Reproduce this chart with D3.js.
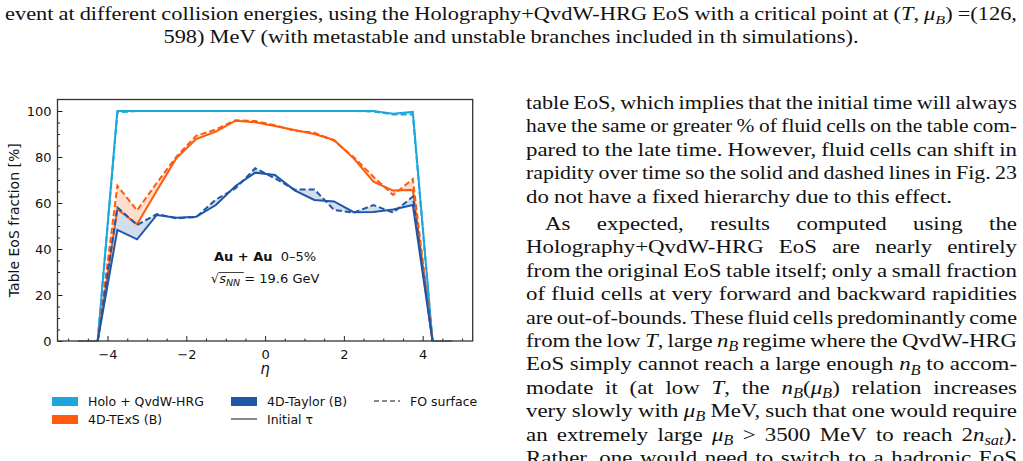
<!DOCTYPE html>
<html>
<head>
<meta charset="utf-8">
<script src="https://cdn.jsdelivr.net/npm/d3@7"></script>
<style>
  body { margin: 0; background: #fff; }
  svg { display: block; }
</style>
</head>
<body>
<svg id="page" width="1023" height="461"></svg>
<script>
//rapidity grid and table fractions (%)
var eta = [-4.25, -3.75, -3.25, -2.75, -2.25, -1.75, -1.25, -0.75, -0.25,
           0.25, 0.75, 1.25, 1.75, 2.25, 2.75, 3.25, 3.75, 4.25];
var holoInit   = [0, 100, 100, 100, 100, 100, 100, 100, 100, 100, 100, 100, 100, 100, 100, 98.8, 99.6, 0];
var holoFO     = [0, 99.4, 100, 100, 100, 100, 100, 100, 100, 100, 100, 100, 100, 100, 99.8, 98.5, 98.5, 0];
var texsInit   = [0, 57.3, 50.8, 65.3, 79.6, 87.8, 91, 95.8, 95.1, 93.5, 91.7, 90, 87.4, 79.4, 69.3, 65.4, 65.7, 0];
var texsFO     = [0, 67.5, 56.8, 68.7, 80.2, 89.2, 92, 96, 95.6, 93.8, 91.4, 90.6, 87.1, 79.9, 71.4, 63.5, 70.4, 0];
var taylorInit = [0, 48.3, 44.2, 54.8, 53.6, 54, 59.1, 67.4, 73.2, 72.2, 65.5, 61.3, 60.7, 56, 56.1, 57.2, 59.1, 0];
var taylorFO   = [0, 58.1, 50.4, 55.2, 53.3, 53.9, 61.5, 66.4, 75.1, 70.7, 65.8, 65.9, 57, 55.8, 59.1, 55.8, 62.8, 0];
//empty cells beyond the edges
var edgeEtaL = [-4.75, -4.25], edgeEtaR = [4.25, 4.75], edgeVal = [0, 0];

var xTicks = [-4, -2, 0, 2, 4];
var yTicks = [0, 20, 40, 60, 80, 100];

//caption and body text lines (*..* italic, _{..} subscript)
var captionLines = [
  'event at different collision energies, using the Holography+QvdW-HRG EoS with a critical point at (*T*, *μ*_{B}) =(126,',
  '598) MeV (with metastable and unstable branches included in th simulations).'
];
var bodyLines = [
  'table EoS, which implies that the initial time will always',
  'have the same or greater % of fluid cells on the table com-',
  'pared to the late time. However, fluid cells can shift in',
  'rapidity over time so the solid and dashed lines in Fig. 23',
  'do not have a fixed hierarchy due to this effect.',
  'As expected, results computed using the',
  'Holography+QvdW-HRG EoS are nearly entirely',
  'from the original EoS table itself; only a small fraction',
  'of fluid cells at very forward and backward rapidities',
  'are out-of-bounds. These fluid cells predominantly come',
  'from the low *T*, large *n*_{B} regime where the QvdW-HRG',
  'EoS simply cannot reach a large enough *n*_{B} to accom-',
  'modate it (at low *T*, the *n*_{B}(*μ*_{B}) relation increases',
  'very slowly with *μ*_{B} MeV, such that one would require',
  'an extremely large *μ*_{B} > 3500 MeV to reach 2*n*_{sat}).',
  'Rather, one would need to switch to a hadronic EoS'
];

var svg = d3.select('#page');
var serif = '"Liberation Serif", "Times New Roman", serif';
var sans = '"DejaVu Sans", sans-serif';

//--- rich text helpers ---
function richText(sel, str, size) {
  var italic = false, shift = 0, i = 0, buf = '';
  function flush(sub) {
    if (!buf) return;
    var t = sel.append('tspan').text(buf)
      .attr('font-style', (italic || sub) ? 'italic' : 'normal');
    if (sub) t.attr('font-size', size * 0.72);
    var dy = (sub ? size * 0.22 : 0) - shift;
    if (dy) t.attr('dy', dy);
    shift = sub ? size * 0.22 : 0;
    buf = '';
  }
  while (i < str.length) {
    var c = str[i];
    if (c === '*') { flush(false); italic = !italic; i++; }
    else if (c === '_' && str[i + 1] === '{') {
      flush(false);
      var j = str.indexOf('}', i);
      buf = str.slice(i + 2, j);
      flush(true);
      i = j + 1;
    } else { buf += c; i++; }
  }
  flush(false);
}

//build words of a line, measured at natural width
function buildLine(g, str, y, size) {
  var nodes = str.split(' ').map(function(w) {
    var t = g.append('text').attr('y', y).attr('font-size', size)
      .attr('font-family', serif).attr('fill', '#111');
    richText(t, w, size);
    return t;
  });
  var widths = nodes.map(function(t) { return t.node().getComputedTextLength(); });
  return {nodes: nodes, widths: widths, sum: d3.sum(widths), n: nodes.length, size: size};
}

//stretch that gives a normal word space on a justified line
function neededStretch(L, x0, x1) {
  return (x1 - x0 - 0.27 * L.size * (L.n - 1)) / L.sum;
}

function placeLine(L, x0, x1, s, mode) {
  var space = 0.27 * L.size;
  var gap = space, start = x0, total = L.sum * s;
  if (mode === 'justify' && L.n > 1) gap = (x1 - x0 - total) / (L.n - 1);
  if (mode === 'center') start = (x0 + x1) / 2 - (total + space * (L.n - 1)) / 2;
  var x = start;
  L.nodes.forEach(function(t, k) {
    var w = L.widths[k] * s;
    t.attr('x', x).attr('textLength', w).attr('lengthAdjust', 'spacingAndGlyphs');
    x += w + gap;
  });
}

//--- caption ---
var cap = svg.append('g').attr('class', 'caption');
var c0 = buildLine(cap, captionLines[0], 20, 18.5);
var c1 = buildLine(cap, captionLines[1], 43, 18.5);
var sCap = neededStretch(c0, 5, 1017);
placeLine(c0, 5, 1017, sCap, 'justify');
placeLine(c1, 5, 1017, sCap, 'center');

//--- body column ---
var body = svg.append('g').attr('class', 'body');
var lineH = 23.4;
var bodyL = bodyLines.map(function(s, k) {
  var y = 109 + k * lineH + (k >= 5 ? 4 : 0);
  var L = buildLine(body, s, y, 19);
  L.x0 = (k === 5) ? 545 : 526;
  L.mode = (k === 4) ? 'left' : 'justify';
  return L;
});
var sBody = d3.median(bodyL.filter(function(L, k) { return [4, 5, 6].indexOf(k) < 0; }),
  function(L) { return neededStretch(L, L.x0, 1017); });
bodyL.forEach(function(L) {
  var s = Math.min(sBody, neededStretch(L, L.x0, 1017) + 0.02);
  placeLine(L, L.x0, 1017, L.mode === 'left' ? sBody : s, L.mode);
});

//--- chart ---
var margin = {left: 57.5, top: 99.5, right: 472.7, bottom: 341};
var x = d3.scaleLinear().domain([-5.27, 5.27]).range([margin.left, margin.right]);
var y = d3.scaleLinear().domain([0, 105]).range([margin.bottom, margin.top]);

var colors = {holo: '#1ca6dc', texs: '#ff5b0c', taylor: '#1f56a8'};
var chart = svg.append('g').attr('class', 'chart');

var line = d3.line().x(function(d) { return x(d[0]); }).y(function(d) { return y(d[1]); });
var area = d3.area().x(function(d) { return x(d[0]); })
  .y0(function(d) { return y(d[1]); }).y1(function(d) { return y(d[2]); });

function series(a, b) { return eta.map(function(e, i) { return [e, a[i], b ? b[i] : 0]; }); }

var sets = [
  {init: holoInit, fo: holoFO, c: colors.holo},
  {init: texsInit, fo: texsFO, c: colors.texs},
  {init: taylorInit, fo: taylorFO, c: colors.taylor}
];

//bands between initial time and FO surface
sets.forEach(function(s) {
  chart.append('path').datum(series(s.init, s.fo))
    .attr('d', area).attr('fill', s.c).attr('fill-opacity', 0.2).attr('stroke', 'none');
});

//edge zeros
[edgeEtaL, edgeEtaR].forEach(function(ex) {
  chart.append('path').datum(ex.map(function(e, i) { return [e, edgeVal[i]]; }))
    .attr('d', line).attr('fill', 'none').attr('stroke', '#8a9aa8').attr('stroke-width', 2);
});

sets.forEach(function(s) {
  chart.append('path').datum(series(s.init))
    .attr('d', line).attr('fill', 'none').attr('stroke', s.c).attr('stroke-width', 2);
  chart.append('path').datum(series(s.fo))
    .attr('d', line).attr('fill', 'none').attr('stroke', s.c).attr('stroke-width', 2)
    .attr('stroke-dasharray', '6,3');
});

//axes with inward ticks
function styleAxis(g) {
  g.select('.domain').remove();
  g.selectAll('.tick line').attr('stroke', '#222').attr('stroke-width', 1);
  g.selectAll('.tick text').attr('fill', '#111').attr('font-family', sans).attr('font-size', 13);
}
var xMinor = d3.range(-5, 5.01, 0.5).filter(function(v) { return xTicks.indexOf(v) < 0; });
var yMinor = d3.range(0, 105, 5).filter(function(v) { return yTicks.indexOf(v) < 0; });

chart.append('g').attr('transform', 'translate(0,' + margin.bottom + ')')
  .call(d3.axisBottom(x).tickValues(xMinor).tickSize(-2.5).tickFormat(''))
  .call(styleAxis);
chart.append('g').attr('transform', 'translate(0,' + margin.bottom + ')')
  .call(d3.axisBottom(x).tickValues(xTicks).tickSize(-5).tickPadding(9).tickFormat(d3.format('d')))
  .call(styleAxis);
chart.append('g').attr('transform', 'translate(' + margin.left + ',0)')
  .call(d3.axisLeft(y).tickValues(yMinor).tickSize(-2.5).tickFormat(''))
  .call(styleAxis);
chart.append('g').attr('transform', 'translate(' + margin.left + ',0)')
  .call(d3.axisLeft(y).tickValues(yTicks).tickSize(-5).tickPadding(6).tickFormat(d3.format('d')))
  .call(styleAxis);

//frame
chart.append('rect')
  .attr('x', margin.left).attr('y', margin.top)
  .attr('width', margin.right - margin.left).attr('height', margin.bottom - margin.top)
  .attr('fill', 'none').attr('stroke', '#333').attr('stroke-width', 1.3);

//axis titles
chart.append('text')
  .attr('transform', 'translate(19,' + ((margin.top + margin.bottom) / 2) + ') rotate(-90)')
  .attr('text-anchor', 'middle').attr('font-family', sans).attr('font-size', 14).attr('fill', '#111')
  .text('Table EoS fraction [%]');
chart.append('text')
  .attr('x', x(0)).attr('y', 374).attr('text-anchor', 'middle')
  .attr('font-family', sans).attr('font-style', 'italic').attr('font-size', 15).attr('fill', '#111')
  .text('η');

//annotation
var ann = chart.append('text').attr('x', x(0)).attr('y', 261).attr('text-anchor', 'middle')
  .attr('font-family', sans).attr('font-size', 13).attr('fill', '#111');
ann.append('tspan').attr('font-weight', 'bold').text('Au + Au');
ann.append('tspan').text('\u00a0\u00a00–5%');

var ann2 = chart.append('text').attr('x', x(0)).attr('y', 283).attr('text-anchor', 'middle')
  .attr('font-family', sans).attr('font-size', 13).attr('fill', '#111');
ann2.append('tspan').text('√');
ann2.append('tspan').attr('font-style', 'italic').text('s');
ann2.append('tspan').attr('font-style', 'italic').attr('font-size', 9.5).attr('dy', 3).text('NN');
ann2.append('tspan').attr('dy', -3).text(' = 19.6 GeV');
//overline of the root
var bb = ann2.node().getBBox();
chart.append('line')
  .attr('x1', bb.x + 8).attr('x2', bb.x + 33).attr('y1', bb.y + 1.5).attr('y2', bb.y + 1.5)
  .attr('stroke', '#111').attr('stroke-width', 0.8);

//legend
var legendItems = [
  {label: 'Holo + QvdW-HRG', kind: 'patch', c: colors.holo, col: 0, row: 0},
  {label: '4D-TExS (B)', kind: 'patch', c: colors.texs, col: 0, row: 1},
  {label: '4D-Taylor (B)', kind: 'patch', c: colors.taylor, col: 1, row: 0},
  {label: 'Initial τ', kind: 'solid', c: '#888', col: 1, row: 1},
  {label: 'FO surface', kind: 'dash', c: '#888', col: 2, row: 0}
];
var colX = [52, 231, 374], rowY = [401, 419];
var legend = svg.append('g').attr('class', 'legend');
legendItems.forEach(function(d) {
  var gx = colX[d.col], gy = rowY[d.row];
  if (d.kind === 'patch') {
    legend.append('rect').attr('x', gx).attr('y', gy - 4).attr('width', 26).attr('height', 9).attr('fill', d.c);
  } else {
    legend.append('line').attr('x1', gx).attr('x2', gx + 26).attr('y1', gy).attr('y2', gy)
      .attr('stroke', d.c).attr('stroke-width', 2)
      .attr('stroke-dasharray', d.kind === 'dash' ? '5,3' : null);
  }
  legend.append('text').attr('x', gx + 36).attr('y', gy + 4.5)
    .attr('font-family', sans).attr('font-size', 12.5).attr('fill', '#111').text(d.label);
});
</script>
</body>
</html>
